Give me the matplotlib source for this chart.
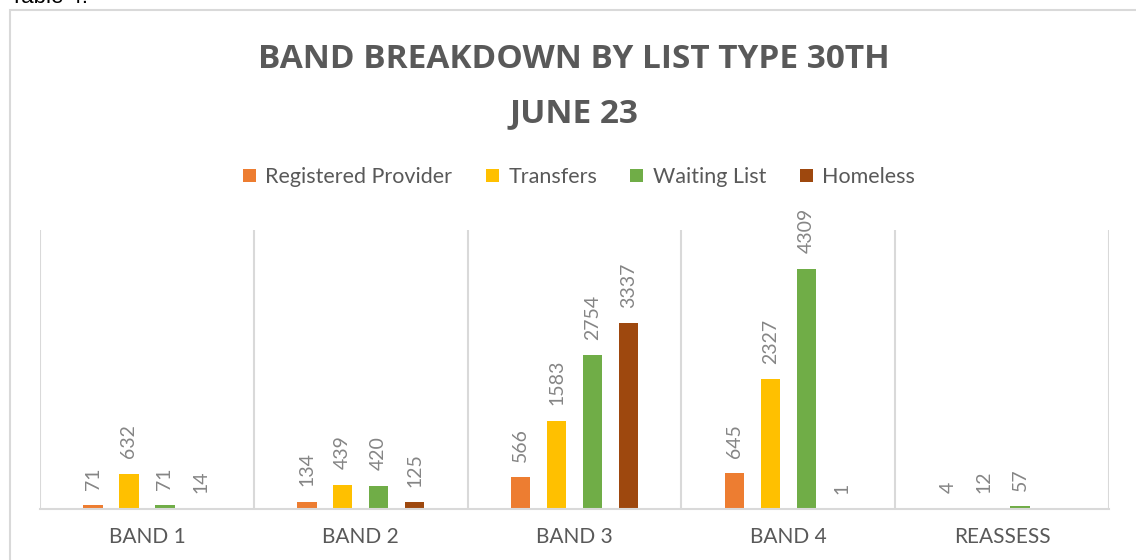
import matplotlib.pyplot as plt
from matplotlib.patches import Patch, Rectangle

categories = ["BAND 1", "BAND 2", "BAND 3", "BAND 4", "REASSESS"]
series_names = ["Registered Provider", "Transfers", "Waiting List", "Homeless"]
registered_provider = [71, 134, 566, 645, 4]
transfers = [632, 439, 1583, 2327, 12]
waiting_list = [71, 420, 2754, 4309, 57]
homeless = [14, 125, 3337, 1, None]
colors = ["#ED7D31", "#FFC000", "#70AD47", "#9E480E"]

W, H = 1136, 560
fig = plt.figure(figsize=(W / 100, H / 100), dpi=100)

# chart border (runs off the right and bottom of the capture)
fig.patches.append(Rectangle((10 / W, -0.05), 1.2, 1 - 10 / H + 0.05,
                             transform=fig.transFigure, fill=False,
                             edgecolor="#d9d9d9", lw=1.5))
fig.text(10 / W, 1 - 3 / H, "Table 4.", fontsize=16, family="Liberation Sans",
         color="black", va="baseline", ha="left")

fig.text(574 / W, 1 - 68 / H, "BAND BREAKDOWN BY LIST TYPE 30TH",
         fontsize=24, family="Open Sans", weight="bold", color="#595959",
         ha="center", va="baseline")
fig.text(574 / W, 1 - 122 / H, "JUNE 23",
         fontsize=24, family="Open Sans", weight="bold", color="#595959",
         ha="center", va="baseline")

ax = fig.add_axes([40 / W, 1 - 509 / H, (1109 - 40) / W, (509 - 230) / H])

all_series = [registered_provider, transfers, waiting_list, homeless]
step, width = 0.168, 0.091
for i, (vals, c) in enumerate(zip(all_series, colors)):
    for j, v in enumerate(vals):
        if v is None:
            continue
        x = j + (i - 1.5) * step
        ax.bar(x, v, width=width, color=c, linewidth=0)
        ax.annotate(str(v), (x, v), xytext=(0, 11), textcoords="offset points",
                    rotation=90, ha="center", va="bottom", fontsize=14,
                    family="Lato", color="#858585")

ax.set_xlim(-0.5, len(categories) - 0.5)
ax.set_ylim(0, 5000)
ax.set_yticks([])
ax.set_xticks(range(len(categories)))
ax.set_xticklabels(categories, fontsize=15, family="Lato", color="#595959")
ax.tick_params(axis="x", length=0, pad=13)
for k in range(len(categories) + 1):
    ax.axvline(k - 0.5, color="#d9d9d9", lw=1.5, zorder=0)
for s in ["top", "left", "right"]:
    ax.spines[s].set_visible(False)
ax.spines["bottom"].set_color("#d9d9d9")
ax.spines["bottom"].set_linewidth(1.5)

handles = [Patch(facecolor=c, label=n) for c, n in zip(colors, series_names)]
fig.legend(handles=handles, loc="center", bbox_to_anchor=(579 / W, 1 - 177 / H),
           ncol=4, frameon=False, handlelength=0.6, handleheight=0.6,
           handletextpad=0.45, columnspacing=1.55,
           prop={"family": "Lato", "size": 15.5}, labelcolor="#595959")

fig.savefig("out.png", dpi=100)
